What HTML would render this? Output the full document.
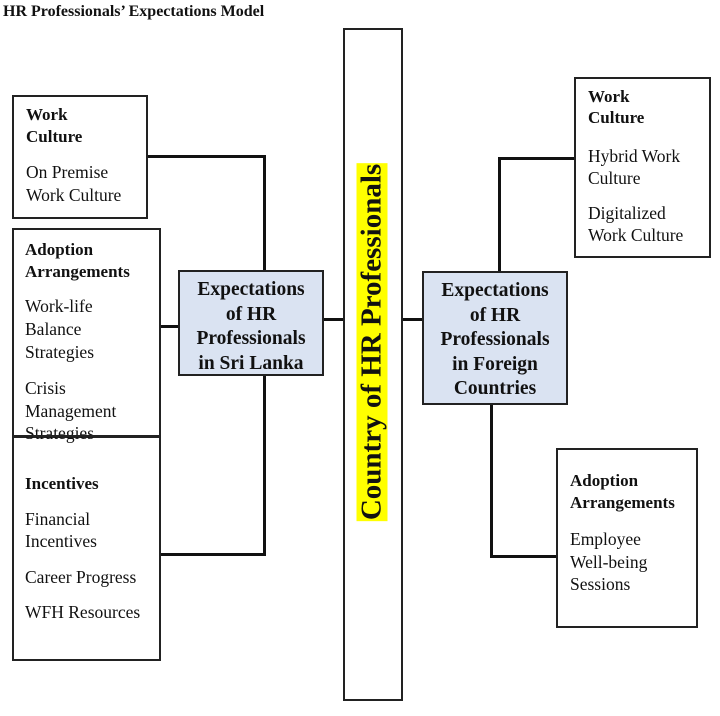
<!DOCTYPE html>
<html><head><style>
body{margin:0;width:720px;height:716px;background:#fff;position:relative;font-family:"Liberation Serif",serif;color:#111;overflow:hidden}
.b{position:absolute;border:2px solid #222;box-sizing:border-box;background:#fff}
.t{position:absolute;font-size:17.5px;line-height:22px;white-space:nowrap}
.h{font-weight:bold;font-size:17px}
.l{position:absolute;background:#111}
.blue{background:#dae3f2;text-align:center;font-weight:bold;font-size:19.5px;line-height:24.5px}
</style></head><body>
<div class="t" style="left:3px;top:1px;font-size:16px;font-weight:bold">HR Professionals’ Expectations Model</div>

<!-- lines -->
<div class="l" style="left:147px;top:155px;width:119px;height:3px"></div>
<div class="l" style="left:263px;top:155px;width:3px;height:116px"></div>
<div class="l" style="left:160px;top:325px;width:20px;height:3px"></div>
<div class="l" style="left:263px;top:374px;width:3px;height:182px"></div>
<div class="l" style="left:160px;top:553px;width:106px;height:3px"></div>
<div class="l" style="left:323px;top:318px;width:22px;height:3px"></div>
<div class="l" style="left:401px;top:318px;width:23px;height:3px"></div>
<div class="l" style="left:498px;top:157px;width:3px;height:116px"></div>
<div class="l" style="left:498px;top:157px;width:78px;height:3px"></div>
<div class="l" style="left:490px;top:403px;width:3px;height:155px"></div>
<div class="l" style="left:490px;top:555px;width:68px;height:3px"></div>

<div class="b" style="left:12px;top:95px;width:136px;height:124px"></div>
<div class="t h" style="left:26px;top:104px">Work</div>
<div class="t h" style="left:26px;top:126px">Culture</div>
<div class="t" style="left:26px;top:161px">On Premise</div>
<div class="t" style="left:26px;top:184px">Work Culture</div>

<div class="b" style="left:12px;top:228px;width:149px;height:210px"></div>
<div class="t h" style="left:25px;top:239px">Adoption</div>
<div class="t h" style="left:25px;top:261px">Arrangements</div>
<div class="t" style="left:25px;top:295px">Work-life</div>
<div class="t" style="left:25px;top:318px">Balance</div>
<div class="t" style="left:25px;top:341px">Strategies</div>
<div class="t" style="left:25px;top:377px">Crisis</div>
<div class="t" style="left:25px;top:400px">Management</div>
<div class="t" style="left:25px;top:422px">Strategies</div>

<div class="b" style="left:12px;top:435px;width:149px;height:226px;background:transparent"></div>
<div class="t h" style="left:25px;top:473px">Incentives</div>
<div class="t" style="left:25px;top:508px">Financial</div>
<div class="t" style="left:25px;top:530px">Incentives</div>
<div class="t" style="left:25px;top:566px">Career Progress</div>
<div class="t" style="left:25px;top:601px">WFH Resources</div>

<div class="b blue" style="left:178px;top:270px;width:146px;height:106px;padding-top:6px">Expectations<br>of HR<br>Professionals<br>in Sri Lanka</div>

<div class="b" style="left:343px;top:28px;width:60px;height:673px"></div>
<div style="position:absolute;left:372px;top:342px;transform:translate(-50%,-50%) rotate(-90deg);white-space:nowrap;background:#ffff00;font-weight:bold;font-size:29px;line-height:31px;padding:0 1px">Country of HR Professionals</div>

<div class="b blue" style="left:422px;top:271px;width:146px;height:134px;padding-top:6px">Expectations<br>of HR<br>Professionals<br>in Foreign<br>Countries</div>

<div class="b" style="left:574px;top:77px;width:137px;height:181px"></div>
<div class="t h" style="left:588px;top:86px">Work</div>
<div class="t h" style="left:588px;top:107px">Culture</div>
<div class="t" style="left:588px;top:145px">Hybrid Work</div>
<div class="t" style="left:588px;top:167px">Culture</div>
<div class="t" style="left:588px;top:202px">Digitalized</div>
<div class="t" style="left:588px;top:224px">Work Culture</div>

<div class="b" style="left:556px;top:448px;width:142px;height:180px"></div>
<div class="t h" style="left:570px;top:470px">Adoption</div>
<div class="t h" style="left:570px;top:492px">Arrangements</div>
<div class="t" style="left:570px;top:528px">Employee</div>
<div class="t" style="left:570px;top:551px">Well-being</div>
<div class="t" style="left:570px;top:573px">Sessions</div>
</body></html>
